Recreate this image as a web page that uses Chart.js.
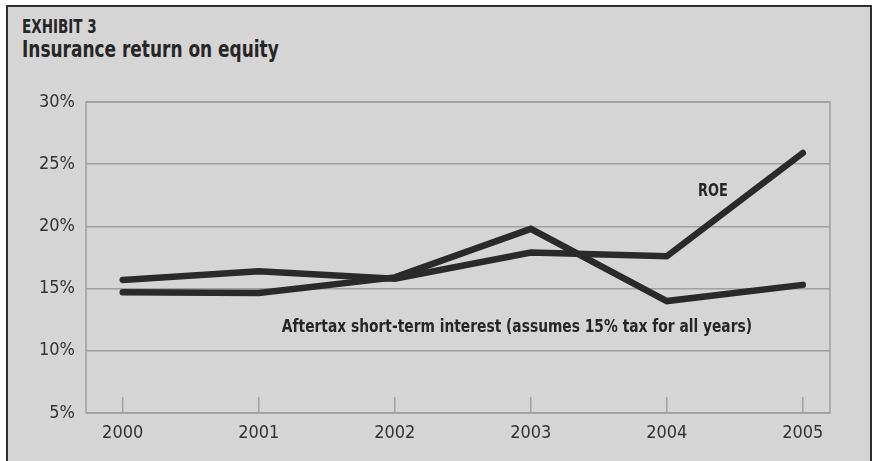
<!DOCTYPE html>
<html>
<head>
<meta charset="utf-8">
<script src="https://cdn.jsdelivr.net/npm/chart.js@4/dist/chart.umd.min.js"></script>
<style>
  html, body { margin: 0; padding: 0; background: #fff; }
  #wrap { position: relative; width: 874px; height: 461px; overflow: hidden; }
  #frame {
    position: absolute; left: 6px; top: 5px; width: 862px; height: 470px;
    background: #d5d5d5; border: 2px solid #2e2e2e;
  }
  .title {
    position: absolute; left: 22px; line-height: 1; white-space: nowrap;
    font-family: "DejaVu Sans Condensed", "DejaVu Sans", sans-serif; font-weight: bold;
    color: #262626; transform-origin: 0 0;
  }
  #kicker { top: 16px; font-size: 20px; transform: scaleX(0.75); }
  #head { top: 38px; font-size: 23px; transform: scaleX(0.82); }
  canvas { position: absolute; left: 0; top: 0; }
</style>
</head>
<body>
<div id="wrap">
  <div id="frame"></div>
  <div class="title" id="kicker">EXHIBIT 3</div>
  <div class="title" id="head">Insurance return on equity</div>
  <canvas id="chart" width="874" height="461"></canvas>
</div>
<script>
const FONT = '"DejaVu Sans Condensed", "DejaVu Sans", sans-serif';

const years = [2000, 2001, 2002, 2003, 2004, 2005];
const roe = [15.7, 16.4, 15.8, 17.9, 17.6, 25.9];
const aftertaxInterest = [14.7, 14.65, 15.9, 19.8, 14.0, 15.3];
const yTicks = [5, 10, 15, 20, 25, 30];

const toPoints = vals => vals.map((v, i) => ({ x: years[i], y: v }));

// narrow bold label, anchored at a data position (left / baseline)
function drawLabel(ctx, text, x, y, squeeze) {
  ctx.save();
  ctx.translate(x, y);
  ctx.scale(squeeze, 1);
  ctx.fillText(text, 0, 0);
  ctx.restore();
}

// box around the plot, short inner ticks and the two line labels
const decorations = {
  id: "decorations",
  afterDraw(chart) {
    const { ctx, chartArea: a, scales } = chart;
    ctx.save();
    ctx.strokeStyle = "#a0a0a0";
    ctx.lineWidth = 1.5;
    ctx.strokeRect(a.left, a.top, a.right - a.left, a.bottom - a.top);
    years.forEach(y => {
      const x = scales.x.getPixelForValue(y);
      ctx.beginPath();
      ctx.moveTo(x, a.bottom);
      ctx.lineTo(x, a.bottom - 16);
      ctx.stroke();
    });
    ctx.fillStyle = "#262626";
    ctx.font = "bold 18px " + FONT;
    ctx.textBaseline = "alphabetic";
    ctx.textAlign = "left";
    drawLabel(ctx, "ROE", scales.x.getPixelForValue(2004.23), scales.y.getPixelForValue(22.43), 0.8);
    drawLabel(ctx, "Aftertax short-term interest (assumes 15% tax for all years)",
      scales.x.getPixelForValue(2001.17), scales.y.getPixelForValue(11.54), 0.853);
    ctx.restore();
  }
};

const lineStyle = {
  borderColor: "#2a2a2a",
  borderWidth: 6.5,
  pointRadius: 0,
  tension: 0,
  borderCapStyle: "round",
  borderJoinStyle: "miter"
};

new Chart(document.getElementById("chart"), {
  type: "line",
  data: {
    datasets: [
      { label: "ROE", data: toPoints(roe), ...lineStyle },
      { label: "Aftertax short-term interest", data: toPoints(aftertaxInterest), ...lineStyle }
    ]
  },
  options: {
    responsive: false,
    animation: false,
    layout: { padding: { left: 0, top: 102, right: 44, bottom: 0 } },
    plugins: { legend: { display: false }, tooltip: { enabled: false } },
    scales: {
      x: {
        type: "linear",
        min: 1999.73,
        max: 2005.2,
        afterBuildTicks: scale => { scale.ticks = years.map(v => ({ value: v })); },
        afterFit: scale => { scale.height = 48; },
        grid: { display: false, drawTicks: false },
        border: { display: false },
        ticks: {
          padding: 10,
          color: "#333",
          font: { family: FONT, size: 18 },
          callback: v => String(v)
        }
      },
      y: {
        min: 5,
        max: 30,
        afterBuildTicks: scale => { scale.ticks = yTicks.map(v => ({ value: v })); },
        afterFit: scale => { scale.width = 86; },
        grid: { color: "#a0a0a0", lineWidth: 1.5, drawTicks: false },
        border: { display: false },
        ticks: {
          padding: 11,
          color: "#333",
          font: { family: FONT, size: 18 },
          callback: v => v + "%"
        }
      }
    }
  },
  plugins: [decorations]
});
</script>
</body>
</html>
